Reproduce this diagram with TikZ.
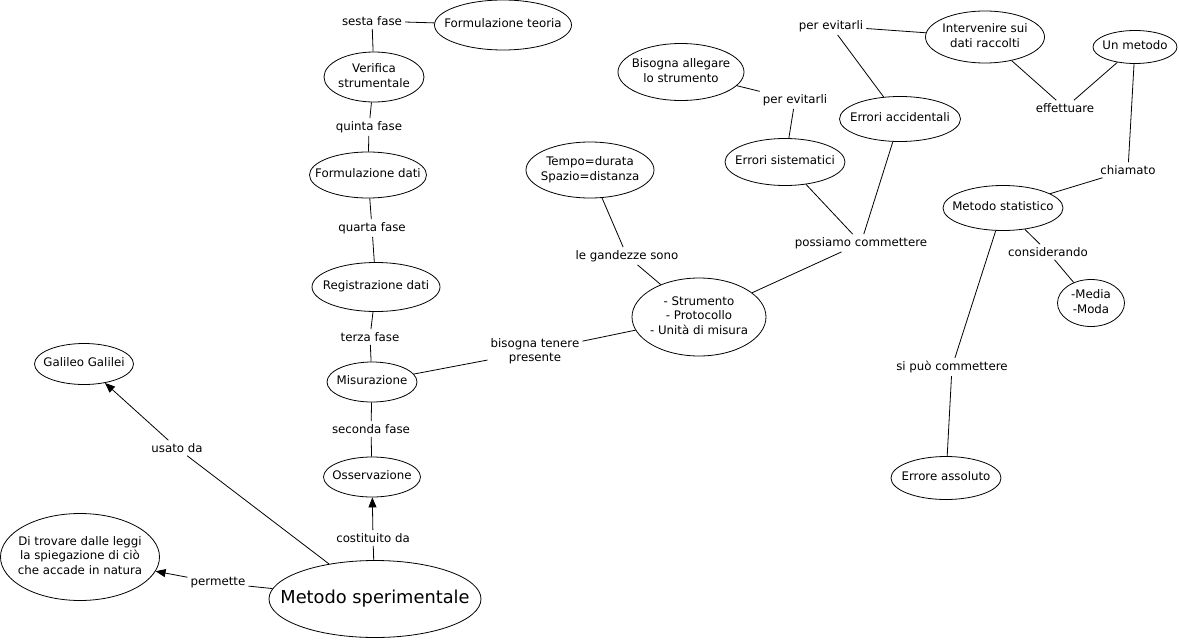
\documentclass[tikz,border=0pt]{standalone}
\usepackage{fontspec}
\setmainfont{DejaVu Sans}
\usetikzlibrary{shapes.geometric,arrows.meta}
\newcommand\ct[1]{\makebox[0pt]{\begin{tabular}{@{}c@{}}#1\end{tabular}}}
\tikzset{
  concept/.style={draw, ellipse, inner sep=0pt, line width=0.8pt},
  lnk/.style={inner sep=3pt, align=center},
  con/.style={line width=0.8pt},
  arr/.style={con, -{Triangle[length=10pt,width=8pt]}}
}
\begin{document}
\begin{tikzpicture}[x=1pt,y=-1pt,font=\fontsize{11.8}{14.4}\selectfont]
\fill[white] (0,0) rectangle (1179,640);
\useasboundingbox (0,0) rectangle (1179,640);

% concepts - left column
\node[concept, minimum width=137pt, minimum height=50pt] (ft) at (503,25) {\ct{Formulazione teoria}};
\node[concept, minimum width=100pt, minimum height=50pt] (vs) at (374,77) {\ct{Verifica\\strumentale}};
\node[concept, minimum width=117pt, minimum height=46pt] (fd) at (368,175) {\ct{Formulazione dati}};
\node[concept, minimum width=128pt, minimum height=49pt] (rd) at (376,287) {\ct{Registrazione dati}};
\node[concept, minimum width=90pt, minimum height=40pt] (mis) at (372,382) {\ct{Misurazione}};
\node[concept, minimum width=97pt, minimum height=40pt] (oss) at (372,477) {\ct{Osservazione}};
\node[concept, minimum width=212pt, minimum height=77pt, font=\fontsize{17.8}{21}\selectfont] (ms) at (375,599) {\ct{Metodo sperimentale}};
\node[concept, minimum width=159pt, minimum height=87pt] (dt) at (80,557) {\ct{Di trovare dalle leggi\\la spiegazione di ciò\\che accade in natura}};
\node[concept, minimum width=99pt, minimum height=41pt] (gg) at (84,364) {\ct{Galileo Galilei}};

% concepts - right part
\node[concept, minimum width=128pt, minimum height=56pt] (tem) at (590,170) {\ct{Tempo=durata\\Spazio=distanza}};
\node[concept, minimum width=134pt, minimum height=78pt] (str) at (699,317) {\ct{- Strumento\\- Protocollo\\- Unità di misura}};
\node[concept, minimum width=126pt, minimum height=57pt] (ba) at (681,72) {\ct{Bisogna allegare\\lo strumento}};
\node[concept, minimum width=120pt, minimum height=47pt] (es) at (785,162) {\ct{Errori sistematici}};
\node[concept, minimum width=121pt, minimum height=45pt] (ea) at (900,119) {\ct{Errori accidentali}};
\node[concept, minimum width=119pt, minimum height=52pt] (int) at (985,37) {\ct{Intervenire sui\\dati raccolti}};
\node[concept, minimum width=84pt, minimum height=33pt] (um) at (1135,47) {\ct{Un metodo}};
\node[concept, minimum width=120pt, minimum height=45pt] (mst) at (1003,208) {\ct{Metodo statistico}};
\node[concept, minimum width=67pt, minimum height=47pt] (mm) at (1091,303) {\ct{-Media\\-Moda}};
\node[concept, minimum width=110pt, minimum height=43pt] (eass) at (946,478) {\ct{Errore assoluto}};

% linking phrases
\node[lnk] (l6) at (372,21) {sesta fase};
\node[lnk] (l5) at (369,127) {quinta fase};
\node[lnk] (l4) at (372,228) {quarta fase};
\node[lnk] (l3) at (370,337) {terza fase};
\node[lnk] (l2) at (371,429) {seconda fase};
\node[lnk] (lc) at (373,538) {costituito da};
\node[lnk] (lu) at (177,448) {usato da};
\node[lnk] (lp) at (218,583) {permette};
\node[lnk] (lb) at (535,351) {bisogna tenere\\presente};
\node[lnk] (lg) at (627,256) {le gandezze sono};
\node[lnk] (lpc) at (861,243) {possiamo commettere};
\node[lnk] (le1) at (795,100) {per evitarli};
\node[lnk] (le2) at (831,26) {per evitarli};
\node[lnk] (lef) at (1065,108) {effettuare};
\node[lnk] (lch) at (1128,170) {chiamato};
\node[lnk] (lcons) at (1048,252) {considerando};
\node[lnk] (lsi) at (952,367) {si può commettere};

% connectors
\draw[con] (vs) -- (l6) -- (ft);
\draw[con] (fd) -- (l5) -- (vs);
\draw[con] (rd) -- (l4) -- (fd);
\draw[con] (mis) -- (l3) -- (rd);
\draw[con] (oss) -- (l2) -- (mis);
\draw[con] (ms) -- (lc);
\draw[arr] (lc) -- (oss);
\draw[con] (ms) -- (lu);
\draw[arr] (lu) -- (gg);
\draw[con] (ms) -- (lp);
\draw[arr] (lp) -- (dt);
\draw[con] (mis) -- (lb) -- (str);
\draw[con] (str) -- (lg) -- (tem);
\draw[con] (str) -- (lpc) -- (es);
\draw[con] (lpc) -- (ea);
\draw[con] (es) -- (le1) -- (ba);
\draw[con] (ea) -- (le2) -- (int);
\draw[con] (int) -- (lef) -- (um);
\draw[con] (um) -- (lch) -- (mst);
\draw[con] (mst) -- (lcons) -- (mm);
\draw[con] (mst) -- (lsi) -- (eass);
\end{tikzpicture}
\end{document}
